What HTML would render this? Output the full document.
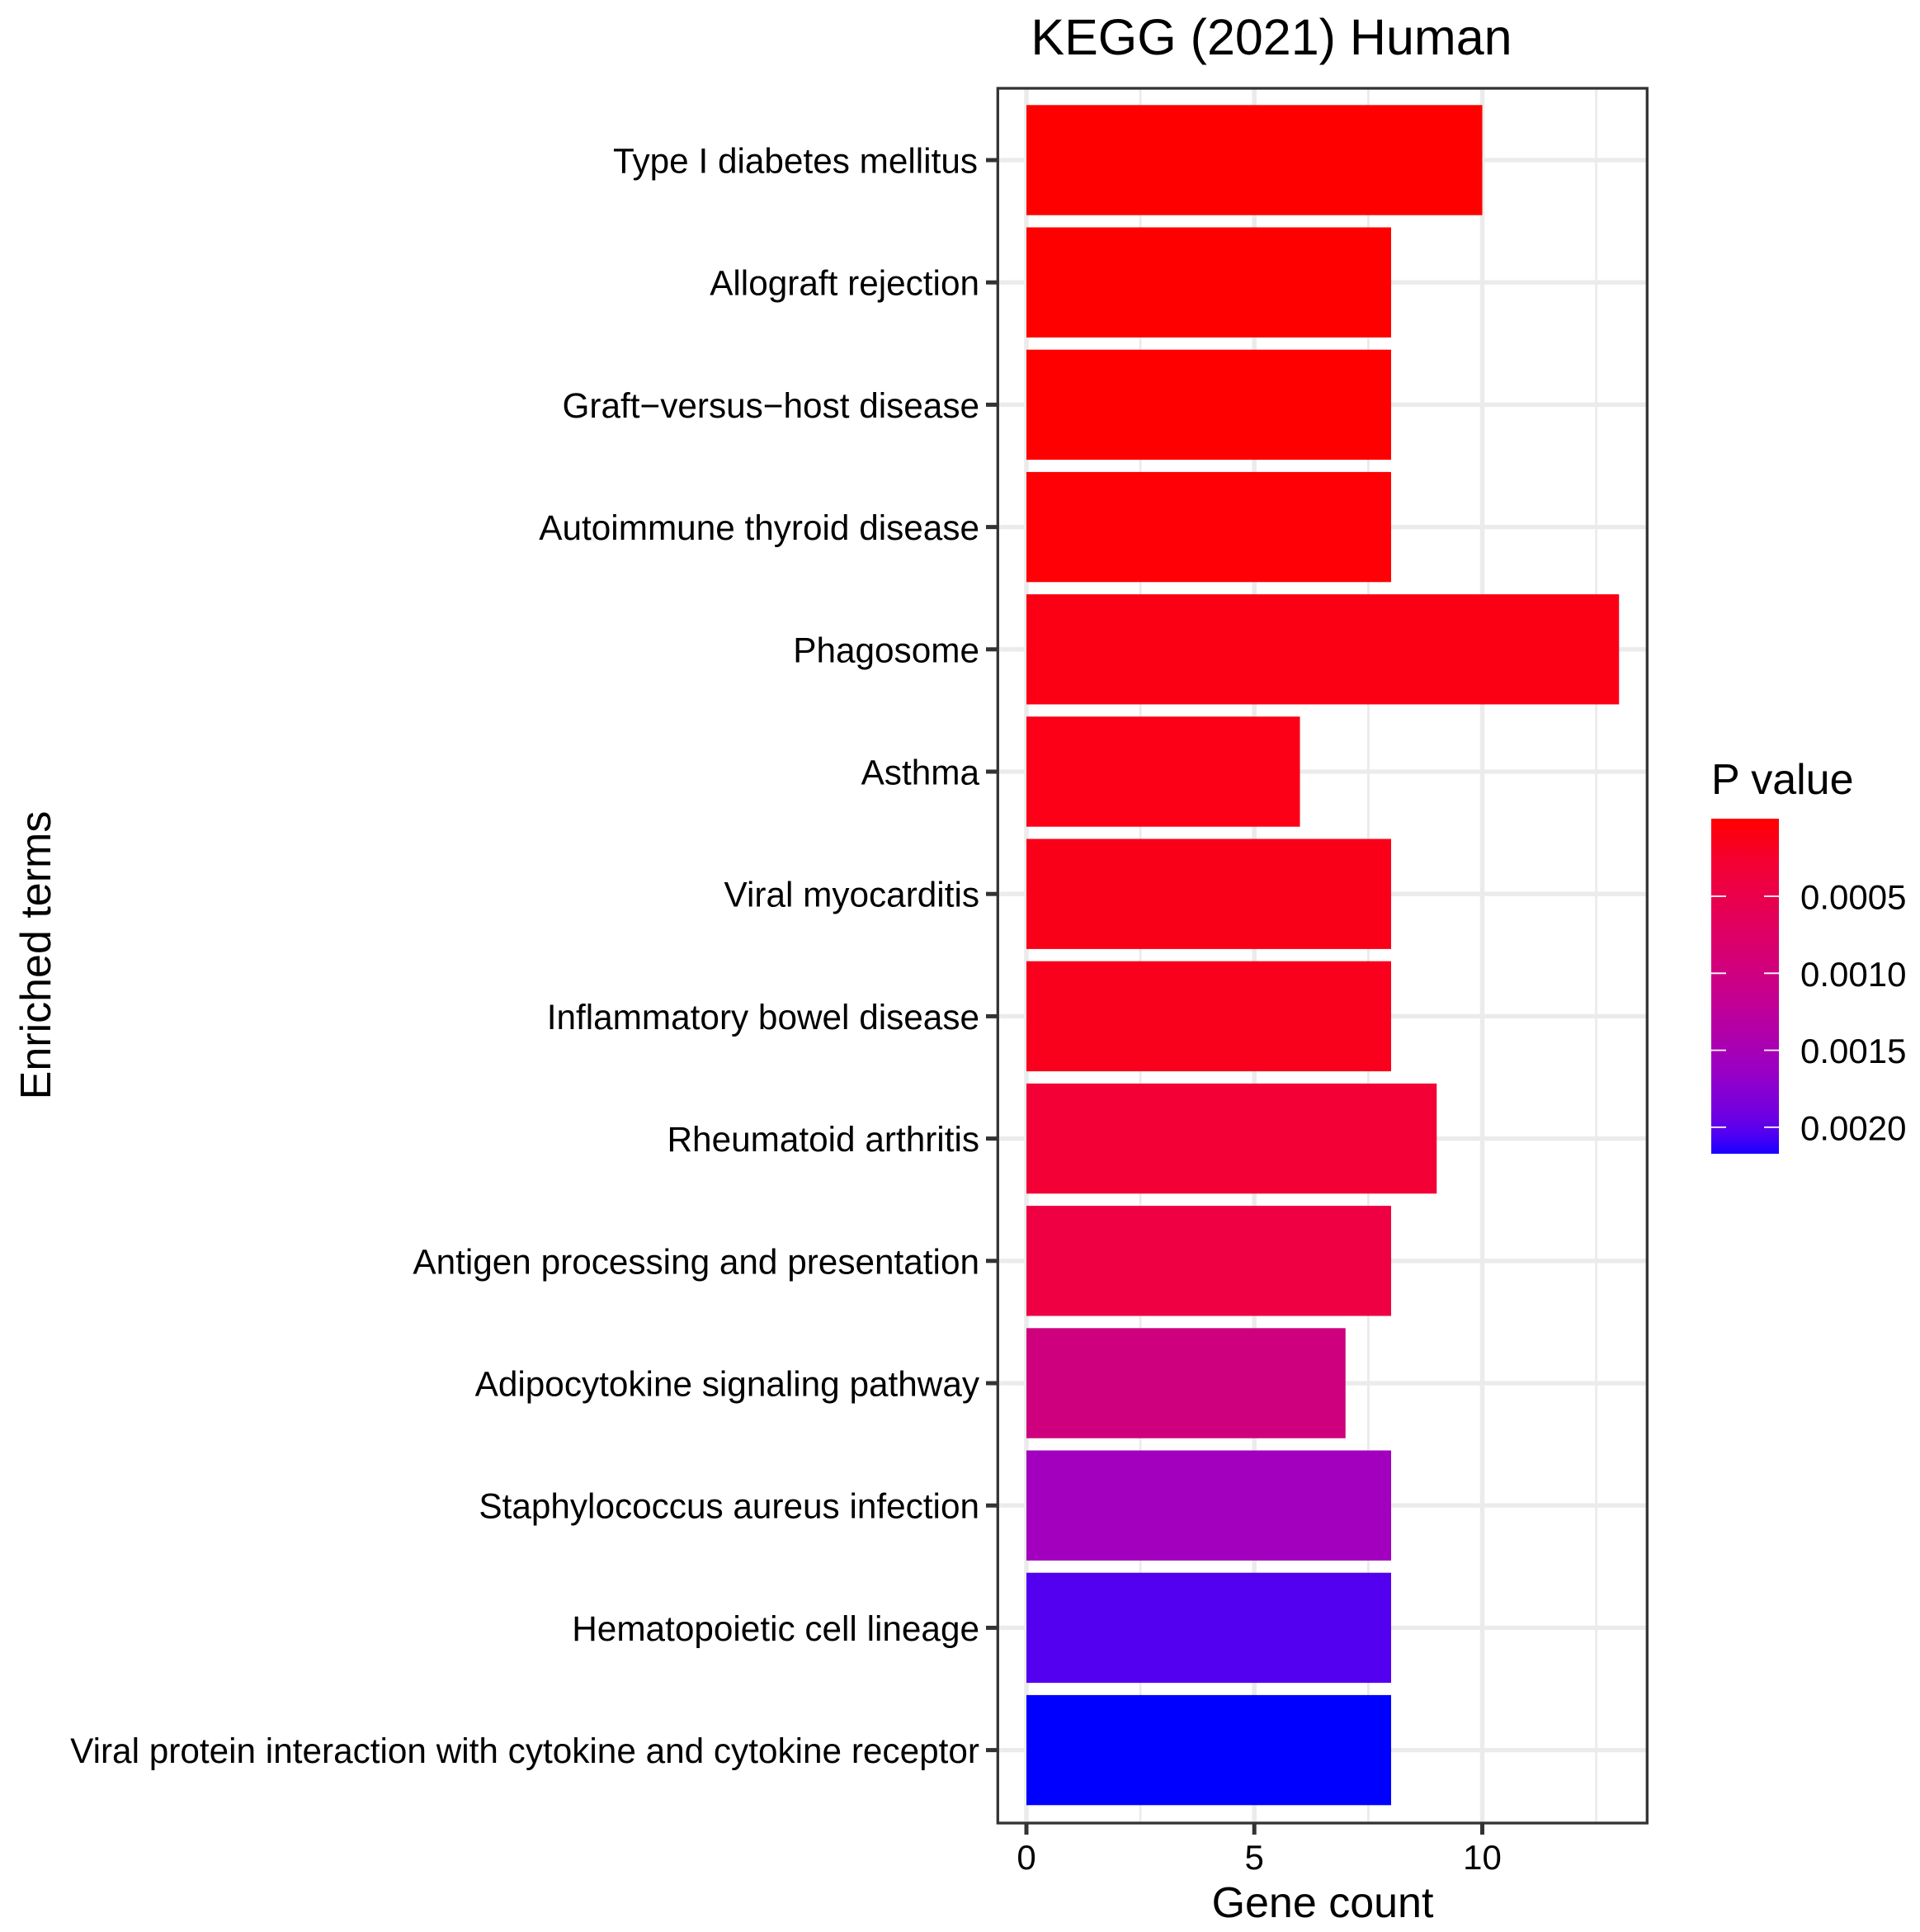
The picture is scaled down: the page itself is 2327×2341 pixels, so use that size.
<!DOCTYPE html>
<html>
<head>
<meta charset="utf-8">
<style>
html,body{margin:0;padding:0;background:#fff;}
svg{display:block;}
text{font-family:"Liberation Sans",Arial,sans-serif;fill:#000;}
</style>
</head>
<body>
<svg width="2327" height="2341" viewBox="0 0 2327 2341" xmlns="http://www.w3.org/2000/svg">
<defs>
<linearGradient id="pg" x1="0" y1="0" x2="0" y2="1">
<stop offset="0" stop-color="#FF0000"/>
<stop offset="0.125" stop-color="#F40031"/>
<stop offset="0.25" stop-color="#E8004F"/>
<stop offset="0.375" stop-color="#DA006C"/>
<stop offset="0.5" stop-color="#CA0089"/>
<stop offset="0.625" stop-color="#B500A5"/>
<stop offset="0.75" stop-color="#9A00C3"/>
<stop offset="0.875" stop-color="#7300E0"/>
<stop offset="0.9375" stop-color="#5400F0"/>
<stop offset="1" stop-color="#1800FF"/>
</linearGradient>
</defs>
<rect x="0" y="0" width="2327" height="2341" fill="#fff"/>

<!-- title -->
<text x="1541" y="66" font-size="61" text-anchor="middle">KEGG (2021) Human</text>

<!-- panel background -->
<rect x="1208" y="106" width="789" height="2103" fill="#fff"/>

<!-- minor vertical grid -->
<g stroke="#EBEBEB" stroke-width="2.8">
<line x1="1382.1" y1="106" x2="1382.1" y2="2209"/>
<line x1="1658.4" y1="106" x2="1658.4" y2="2209"/>
<line x1="1934.6" y1="106" x2="1934.6" y2="2209"/>
</g>
<!-- major vertical grid -->
<g stroke="#EBEBEB" stroke-width="5.5">
<line x1="1244" y1="106" x2="1244" y2="2209"/>
<line x1="1520.2" y1="106" x2="1520.2" y2="2209"/>
<line x1="1796.5" y1="106" x2="1796.5" y2="2209"/>
</g>
<!-- horizontal grid -->
<g stroke="#EBEBEB" stroke-width="5.3">
<line x1="1208" y1="194" x2="1997" y2="194"/>
<line x1="1208" y1="342.2" x2="1997" y2="342.2"/>
<line x1="1208" y1="490.4" x2="1997" y2="490.4"/>
<line x1="1208" y1="638.6" x2="1997" y2="638.6"/>
<line x1="1208" y1="786.8" x2="1997" y2="786.8"/>
<line x1="1208" y1="935" x2="1997" y2="935"/>
<line x1="1208" y1="1083.2" x2="1997" y2="1083.2"/>
<line x1="1208" y1="1231.4" x2="1997" y2="1231.4"/>
<line x1="1208" y1="1379.6" x2="1997" y2="1379.6"/>
<line x1="1208" y1="1527.8" x2="1997" y2="1527.8"/>
<line x1="1208" y1="1676" x2="1997" y2="1676"/>
<line x1="1208" y1="1824.2" x2="1997" y2="1824.2"/>
<line x1="1208" y1="1972.4" x2="1997" y2="1972.4"/>
<line x1="1208" y1="2120.6" x2="1997" y2="2120.6"/>
</g>

<!-- bars -->
<rect x="1244" y="127.3" width="552.5" height="133.4" fill="#FF0000"/>
<rect x="1244" y="275.5" width="442" height="133.4" fill="#FF0000"/>
<rect x="1244" y="423.7" width="442" height="133.4" fill="#FF0001"/>
<rect x="1244" y="571.9" width="442" height="133.4" fill="#FE0006"/>
<rect x="1244" y="720.1" width="718.25" height="133.4" fill="#FB0014"/>
<rect x="1244" y="868.3" width="331.5" height="133.4" fill="#FB0016"/>
<rect x="1244" y="1016.5" width="442" height="133.4" fill="#FA0018"/>
<rect x="1244" y="1164.7" width="442" height="133.4" fill="#F9001C"/>
<rect x="1244" y="1312.9" width="497.25" height="133.4" fill="#F30036"/>
<rect x="1244" y="1461.1" width="442" height="133.4" fill="#EE0042"/>
<rect x="1244" y="1609.3" width="386.75" height="133.4" fill="#CF007E"/>
<rect x="1244" y="1757.5" width="442" height="133.4" fill="#A200BE"/>
<rect x="1244" y="1905.7" width="442" height="133.4" fill="#5400F0"/>
<rect x="1244" y="2053.9" width="442" height="133.4" fill="#0000FF"/>

<!-- panel border -->
<rect x="1209.3" y="107" width="787" height="2102" fill="none" stroke="#333333" stroke-width="3.3"/>

<!-- y ticks -->
<g stroke="#333333" stroke-width="5">
<line x1="1195" y1="194" x2="1209" y2="194"/>
<line x1="1195" y1="342.2" x2="1209" y2="342.2"/>
<line x1="1195" y1="490.4" x2="1209" y2="490.4"/>
<line x1="1195" y1="638.6" x2="1209" y2="638.6"/>
<line x1="1195" y1="786.8" x2="1209" y2="786.8"/>
<line x1="1195" y1="935" x2="1209" y2="935"/>
<line x1="1195" y1="1083.2" x2="1209" y2="1083.2"/>
<line x1="1195" y1="1231.4" x2="1209" y2="1231.4"/>
<line x1="1195" y1="1379.6" x2="1209" y2="1379.6"/>
<line x1="1195" y1="1527.8" x2="1209" y2="1527.8"/>
<line x1="1195" y1="1676" x2="1209" y2="1676"/>
<line x1="1195" y1="1824.2" x2="1209" y2="1824.2"/>
<line x1="1195" y1="1972.4" x2="1209" y2="1972.4"/>
<line x1="1195" y1="2120.6" x2="1209" y2="2120.6"/>
</g>
<!-- x ticks -->
<g stroke="#333333" stroke-width="5">
<line x1="1244" y1="2209" x2="1244" y2="2223"/>
<line x1="1520.2" y1="2209" x2="1520.2" y2="2223"/>
<line x1="1796.5" y1="2209" x2="1796.5" y2="2223"/>
</g>

<!-- y labels -->
<g font-size="42.3" text-anchor="end">
<text x="1185" y="209.5">Type I diabetes mellitus</text>
<text x="1187" y="357.7">Allograft rejection</text>
<text x="1187" y="505.9">Graft−versus−host disease</text>
<text x="1187" y="654.1">Autoimmune thyroid disease</text>
<text x="1187" y="802.3">Phagosome</text>
<text x="1187" y="950.5">Asthma</text>
<text x="1187" y="1098.7">Viral myocarditis</text>
<text x="1187" y="1246.9">Inflammatory bowel disease</text>
<text x="1187" y="1395.1">Rheumatoid arthritis</text>
<text x="1187" y="1543.3">Antigen processing and presentation</text>
<text x="1187" y="1691.5">Adipocytokine signaling pathway</text>
<text x="1187" y="1839.7">Staphylococcus aureus infection</text>
<text x="1187" y="1987.9">Hematopoietic cell lineage</text>
<text x="1187" y="2136.1">Viral protein interaction with cytokine and cytokine receptor</text>
</g>

<!-- x labels -->
<g font-size="42" text-anchor="middle">
<text x="1244" y="2265">0</text>
<text x="1520.2" y="2265">5</text>
<text x="1796.5" y="2265">10</text>
</g>

<!-- axis titles -->
<text x="1603" y="2323" font-size="52" text-anchor="middle">Gene count</text>
<text transform="translate(61,1157.5) rotate(-90)" font-size="52" text-anchor="middle">Enriched terms</text>

<!-- legend -->
<text x="2074" y="962" font-size="52">P value</text>
<rect x="2074" y="992" width="82" height="406" fill="url(#pg)"/>
<g stroke="#fff" stroke-width="1.8">
<line x1="2074" y1="1086" x2="2092" y2="1086"/>
<line x1="2138" y1="1086" x2="2156" y2="1086"/>
<line x1="2074" y1="1179.3" x2="2092" y2="1179.3"/>
<line x1="2138" y1="1179.3" x2="2156" y2="1179.3"/>
<line x1="2074" y1="1272.6" x2="2092" y2="1272.6"/>
<line x1="2138" y1="1272.6" x2="2156" y2="1272.6"/>
<line x1="2074" y1="1365.9" x2="2092" y2="1365.9"/>
<line x1="2138" y1="1365.9" x2="2156" y2="1365.9"/>
</g>
<g font-size="42">
<text x="2182" y="1101.5">0.0005</text>
<text x="2182" y="1194.8">0.0010</text>
<text x="2182" y="1288.1">0.0015</text>
<text x="2182" y="1381.4">0.0020</text>
</g>
</svg>
</body>
</html>
